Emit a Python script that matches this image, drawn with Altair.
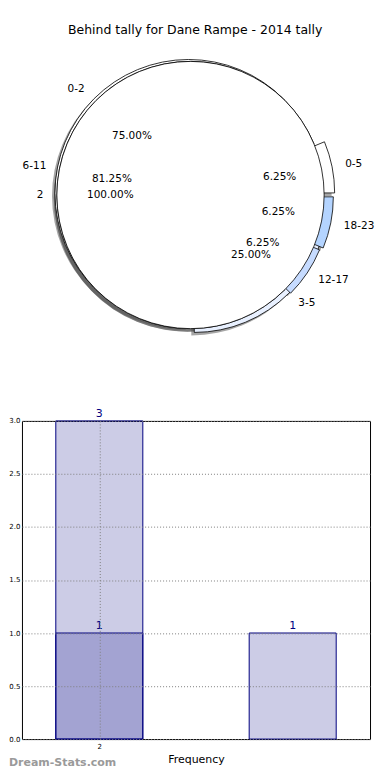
import altair as alt
import pandas as pd

TITLE = "Behind tally for Dane Rampe - 2014 tally"
WATERMARK = "Dream-Stats.com"

# three overlaid pies (A drawn last, on top)
pie_group = ["B", "B", "C", "C", "C", "C", "A"]
pie_labels = ["0-2", "3-5", "0-5", "6-11", "12-17", "18-23", "2"]
pie_counts = [12, 4, 1, 13, 1, 1, 16]
pie_order = [0, 1, 0, 1, 2, 3, 0]

# style
pie_explode = [0.02, 0.04, 0.08, 0.0, 0.05, 0.07, 0.0]
pie_colors = ["#ffffff", "#e8f0ff", "#ffffff", "#ffffff", "#c6dbff", "#b4d4ff", "#ffffff"]

# bar chart
bar_pos = [2, 2, 3]
bar_vals = [3, 1, 1]
bar_text = ["3", "1", "1"]
x_ticks = [2]
y_ticks = [0.0, 0.5, 1.0, 1.5, 2.0, 2.5, 3.0]

FONT = "DejaVu Sans"
R = 134
CX = 169
CY = 148.5
PIE_W, PIE_H = 361, 351
BAR_W, BAR_H = 349, 319
HALF = 0.225

pie_df = pd.DataFrame({
    "pie": pie_group, "label": pie_labels, "n": pie_counts,
    "order": pie_order, "explode": pie_explode,
})

base = alt.Chart(pie_df).transform_window(
    cum="sum(n)", groupby=["pie"], sort=[alt.SortField("order")], frame=[None, 0]
).transform_joinaggregate(
    total="sum(n)", groupby=["pie"]
).transform_calculate(
    mid="PI*(2*datum.cum - datum.n)/datum.total",
    t0="PI/2 - 2*PI*(datum.cum - datum.n)/datum.total",
    t1="PI/2 - 2*PI*datum.cum/datum.total",
    tmid="PI/2 - PI*(2*datum.cum - datum.n)/datum.total",
    cx=f"{CX} + datum.explode*{R}*cos(PI*(2*datum.cum - datum.n)/datum.total)",
    cy=f"{CY} - datum.explode*{R}*sin(PI*(2*datum.cum - datum.n)/datum.total)",
    pct="format(100*datum.n/datum.total, '.2f') + '%'",
)

pos = dict(
    x=alt.X("cx:Q", scale=None, axis=None),
    y=alt.Y("cy:Q", scale=None, axis=None),
)
arc_enc = dict(
    theta=alt.Theta("t0:Q", scale=None, stack=None),
    theta2=alt.Theta2("t1:Q"),
    **pos,
)
fill = alt.Fill("label:N", scale=alt.Scale(domain=pie_labels, range=pie_colors), legend=None)

shadow = base.mark_arc(radius=R, xOffset=-3, yOffset=3, fill="#4d4d4d",
                       fillOpacity=0.5, strokeWidth=0).encode(**arc_enc)

wedges = [
    base.transform_filter(alt.datum.pie == g).mark_arc(
        radius=R, stroke="black", strokeWidth=0.8
    ).encode(fill=fill, **arc_enc)
    for g in ["B", "C", "A"]
]

pct_txt = base.mark_text(radius=0.6 * R, font=FONT, fontSize=10.5, color="black",
                         align="center", baseline="middle").encode(
    theta=alt.Theta("tmid:Q", scale=None, stack=None), text="pct:N", **pos)

lab_left = base.transform_filter("cos(datum.mid) < 0").mark_text(
    radius=1.1 * R, font=FONT, fontSize=10.5, color="black", align="right",
    baseline="middle").encode(
    theta=alt.Theta("tmid:Q", scale=None, stack=None), text="label:N", **pos)
lab_right = base.transform_filter("cos(datum.mid) >= 0").mark_text(
    radius=1.1 * R, font=FONT, fontSize=10.5, color="black", align="left",
    baseline="middle").encode(
    theta=alt.Theta("tmid:Q", scale=None, stack=None), text="label:N", **pos)

pie = alt.layer(shadow, *wedges, pct_txt, lab_left, lab_right).properties(
    width=PIE_W, height=PIE_H,
)

bar_df = pd.DataFrame({"pos": bar_pos, "val": bar_vals, "txt": bar_text})
bbase = alt.Chart(bar_df).transform_calculate(
    x0=f"datum.pos - {HALF}", x1=f"datum.pos + {HALF}"
)
grid_axis = dict(grid=True, gridDash=[1, 2], gridColor="#808080", gridWidth=1,
                 ticks=False, domain=False, labelFont=FONT, labelFontSize=7,
                 labelColor="black", zindex=1)
xs = alt.Scale(domain=[1.6, 3.4], nice=False, zero=False)
ys = alt.Scale(domain=[0, 3], nice=False)

bars = bbase.mark_rect(fill="#000080", fillOpacity=0.2, stroke="#000080",
                       strokeWidth=1).encode(
    x=alt.X("x0:Q", scale=xs, axis=alt.Axis(values=x_ticks, format="d", title="Frequency",
            titleFont=FONT, titleFontSize=11, titleFontWeight="normal",
            titleColor="black", labelPadding=3, titlePadding=4, **grid_axis)),
    x2="x1:Q",
    y=alt.Y("val:Q", scale=ys, axis=alt.Axis(values=y_ticks, format=".1f", title=None,
            labelPadding=2, **grid_axis)),
    y2=alt.datum(0),
)
bar_lbl = bbase.mark_text(font=FONT, fontSize=11, color="#000080", baseline="bottom",
                          dy=-2).encode(
    x=alt.X("pos:Q", scale=xs), y=alt.Y("val:Q", scale=ys), text="txt:N")

wm = alt.Chart(pd.DataFrame({"t": [WATERMARK]})).mark_text(
    font=FONT, fontSize=11, fontWeight="bold", color="#9a9a9a", align="left",
    baseline="middle").encode(x=alt.value(-13), y=alt.value(BAR_H + 24), text="t:N")

bar = alt.layer(bars, bar_lbl, wm).properties(
    width=BAR_W, height=BAR_H, view=alt.ViewBackground(stroke="black", strokeWidth=1)
)

chart = alt.vconcat(pie, bar, spacing=10).properties(
    padding={"left": 0, "top": 15, "right": 0, "bottom": 0},
    title=alt.TitleParams(TITLE, font=FONT, fontSize=12.5, fontWeight="normal",
                          anchor="middle", color="black", offset=10, frame="bounds"),
).configure_view(stroke=None)

chart.save("out.html", embed_options={"renderer": "svg", "actions": False})
